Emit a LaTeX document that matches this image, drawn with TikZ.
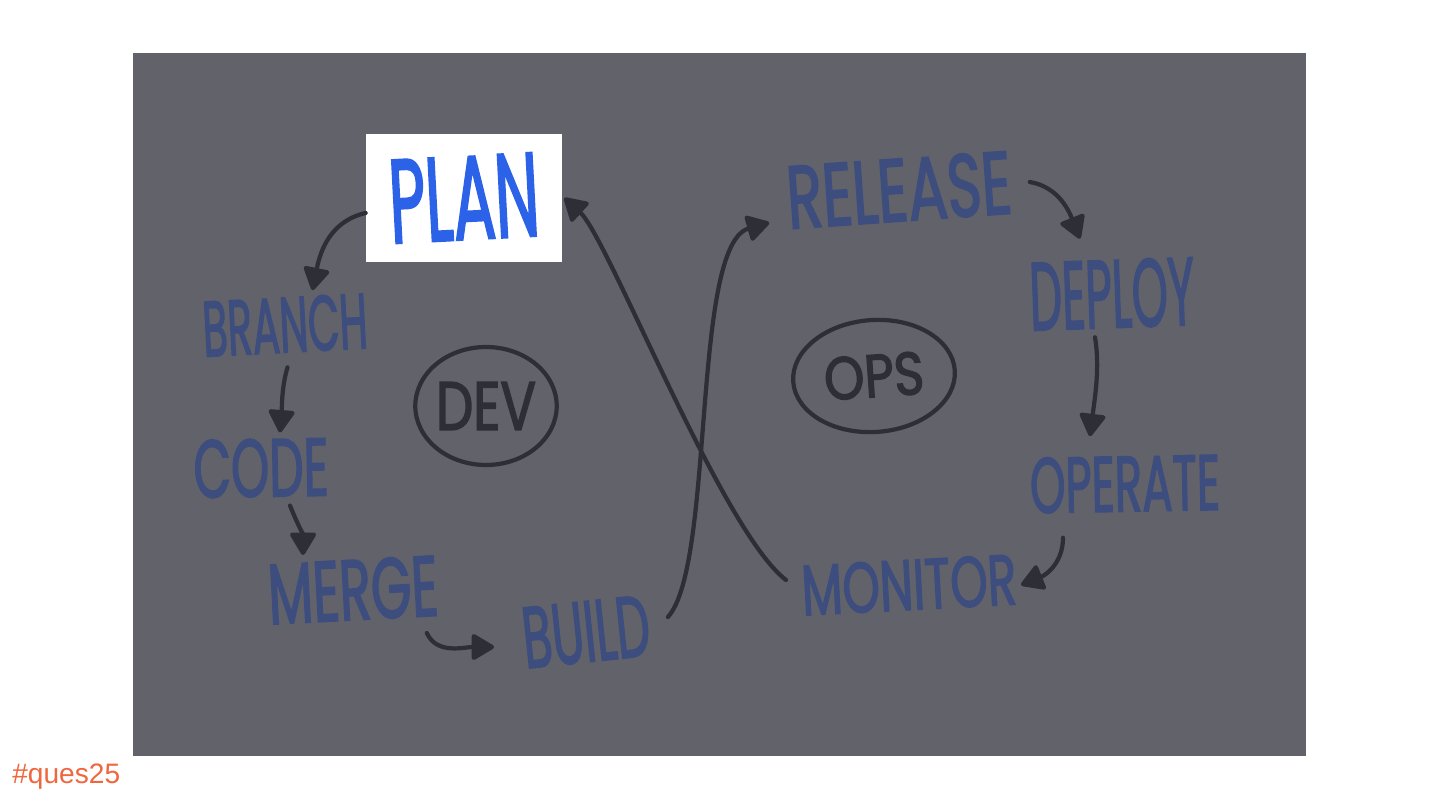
\documentclass[tikz,border=0pt]{standalone}
\usepackage{fontspec}
\setmainfont{Poppins}
\newfontfamily\handfont{Poppins}[FakeBold=2.5]
\newfontfamily\tagfont{Liberation Sans}
\usepackage{graphicx}
\usetikzlibrary{arrows.meta}
\usetikzlibrary{shapes}

\definecolor{boardgray}{HTML}{62626B}
\definecolor{inkblue}{HTML}{3D4D7E}
\definecolor{inkdark}{HTML}{2E2E37}
\definecolor{planblue}{HTML}{2B62E8}
\definecolor{tagorange}{HTML}{F0663E}

% hand lettering: angle, width, height, text
\newcommand{\hw}[4]{\rotatebox{#1}{\resizebox{#2cm}{#3cm}{\handfont #4}}}

\begin{document}
\begin{tikzpicture}[
    x=0.02cm,
    y=-0.02cm,
    word/.style={
        text=inkblue,
        inner sep=0pt
    },
    arrow/.style={
        -{Triangle[round,length=14pt,width=16pt]},
        draw=inkdark,
        line width=2.4pt,
        line cap=round
    },
    ring/.style={
        draw=inkdark,
        line width=2.4pt,
        ellipse,
        text=inkdark,
        inner sep=0pt
    }
]

    \fill[white] (0,0) rectangle (1440,810);
    \useasboundingbox (0,0) rectangle (1440,810);
    \fill[boardgray] (133,53) rectangle (1306,756);

    \node[fill=white,minimum width=3.92cm,minimum height=2.56cm,text=planblue,inner sep=0pt] (plan)
    at (464,198)
    {
        \hw{3}{3.0}{1.65}{PLAN}
    };

    \node[word] (branch) at (285,325) {\hw{3}{3.3}{1.1}{BRANCH}};
    \node[word] (code) at (261,468) {\hw{1}{2.7}{1.15}{CODE}};
    \node[word] (merge) at (353,590) {\hw{3}{3.4}{1.2}{MERGE}};
    \node[word] (build) at (586,632) {\hw{6}{2.55}{1.2}{BUILD}};
    \node[word] (release) at (899,190) {\hw{4}{4.5}{1.25}{RELEASE}};
    \node[word] (deploy) at (1112,294) {\hw{2}{3.3}{1.35}{DEPLOY}};
    \node[word] (operate) at (1125,484) {\hw{1}{3.8}{1.1}{OPERATE}};
    \node[word] (monitor) at (909,585) {\hw{3}{4.3}{1.0}{MONITOR}};

    \node[ring,minimum width=2.48cm,minimum height=2.36cm] (dev)
    at (486,406)
    {
        \hw{0}{2.0}{0.95}{DEV}
    };

    \node[ring,minimum width=3.24cm,minimum height=2.24cm,rotate=4] (ops)
    at (874,376)
    {
        \hw{0}{2.0}{0.85}{OPS}
    };

    \draw[arrow]
    ([yshift=-0.3cm]plan.west)
        .. controls +(-35,8) and +(8,-40) ..
    ([xshift=0.55cm,yshift=0.05cm]branch.north);

    \draw[arrow]
    ([xshift=0.05cm,yshift=-0.2cm]branch.south)
        .. controls +(-6,20) and +(2,-25) ..
    ([xshift=0.38cm,yshift=0.1cm]code.north);

    \draw[arrow]
    ([xshift=0.58cm,yshift=-0.14cm]code.south)
        .. controls +(6,15) and +(0,-20) ..
    ([xshift=-1.0cm,yshift=0.0cm]merge.north);

    \draw[arrow]
    ([xshift=-0.26cm,yshift=-0.16cm]merge.south east)
        .. controls +(10,22) and +(-30,0) ..
    ([xshift=-0.5cm,yshift=-0.3cm]build.west);

    \draw[arrow]
    ([xshift=0.3cm,yshift=0.3cm]build.east)
        .. controls +(47,-52) and +(-78,22) ..
    ([xshift=-0.3cm,yshift=0.14cm]release.south west);

    \draw[arrow]
    ([xshift=0.32cm,yshift=0.16cm]release.east)
        .. controls +(30,5) and +(-10,-25) ..
    ([xshift=-0.64cm,yshift=0.36cm]deploy.north);

    \draw[arrow]
    ([xshift=-0.34cm,yshift=-0.12cm]deploy.south)
        .. controls +(5,30) and +(5,-40) ..
    ([xshift=-0.7cm,yshift=0.36cm]operate.north);

    \draw[arrow]
    ([xshift=-1.24cm,yshift=-0.48cm]operate.south)
        .. controls +(0,25) and +(25,-10) ..
    ([xshift=0.06cm]monitor.east);

    \draw[arrow]
    ([xshift=-0.28cm,yshift=0.1cm]monitor.west)
        .. controls +(-65,-50) and +(44,40) ..
    ([xshift=0.04cm]plan.east);

    \node[text=tagorange,anchor=west,inner sep=0pt] (tag)
    at (12,777)
    {
        \tagfont\fontsize{16}{19}\selectfont \#ques25
    };

\end{tikzpicture}
\end{document}
